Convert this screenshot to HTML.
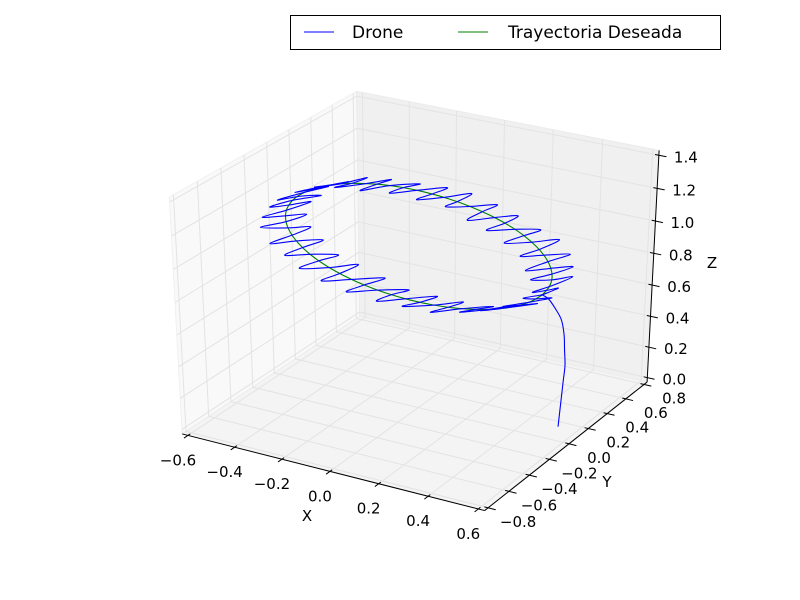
<!DOCTYPE html>
<html><head><meta charset="utf-8"><style>
body{margin:0;background:#fff}
svg{display:block;font-family:"DejaVu Sans","Liberation Sans",sans-serif}
</style></head><body>
<svg id="chart" width="800" height="600" viewBox="0 0 800 600" xmlns="http://www.w3.org/2000/svg">
<rect x="0" y="0" width="800" height="600" fill="#fff"/>
<g id="panes"></g>
<g id="grid"></g>
<g id="axes"></g>
<g id="series"></g>
<g>
<rect x="290.5" y="15.5" width="430" height="34" fill="#fff" stroke="#000" stroke-width="1"/>
<line x1="304" y1="32" x2="334" y2="32" stroke="#0000ff" stroke-width="1"/>
<text x="352" y="38" font-size="17">Drone</text>
<line x1="458" y1="32" x2="488" y2="32" stroke="#008000" stroke-width="1"/>
<text x="508" y="38" font-size="17">Trayectoria Deseada</text>
</g>
</svg>
<script>
const xTicks = [-0.6,-0.4,-0.2,0.0,0.2,0.4,0.6];
const yTicks = [-0.8,-0.6,-0.4,-0.2,0.0,0.2,0.4,0.6,0.8];
const zTicks = [0.0,0.2,0.4,0.6,0.8,1.0,1.2,1.4];
const xTickLabels = ["\u22120.6","\u22120.4","\u22120.2","0.0","0.2","0.4","0.6"];
const yTickLabels = ["\u22120.8","\u22120.6","\u22120.4","\u22120.2","0.0","0.2","0.4","0.6","0.8"];
const zTickLabels = ["0.0","0.2","0.4","0.6","0.8","1.0","1.2","1.4"];
const desiredX = [0.5,0.492,0.470,0.433,0.383,0.321,0.25,0.171,0.087,0,-0.087,-0.171,-0.25,-0.321,-0.383,-0.433,-0.470,-0.492,-0.5,-0.492,-0.470,-0.433,-0.383,-0.321,-0.25,-0.171,-0.087,0,0.087,0.171,0.25,0.321,0.383,0.433,0.470,0.492,0.5];
const desiredY = [0,0.087,0.171,0.25,0.321,0.383,0.433,0.470,0.492,0.5,0.492,0.470,0.433,0.383,0.321,0.25,0.171,0.087,0,-0.087,-0.171,-0.25,-0.321,-0.383,-0.433,-0.470,-0.492,-0.5,-0.492,-0.470,-0.433,-0.383,-0.321,-0.25,-0.171,-0.087,0];
const desiredZ = [0.86,0.867,0.878,0.894,0.912,0.933,0.956,0.98,1.005,1.03,1.054,1.076,1.096,1.113,1.126,1.136,1.142,1.143,1.14,1.133,1.122,1.106,1.088,1.067,1.044,1.02,0.995,0.97,0.946,0.924,0.904,0.887,0.874,0.864,0.858,0.857,0.86];
const takeoffX = [0.54,0.545,0.55,0.555,0.56,0.56,0.56,0.555,0.54,0.52,0.5];
const takeoffY = [0.1,0.1,0.1,0.1,0.1,0.09,0.08,0.06,0.03,0.01,0];
const takeoffZ = [0,0.1,0.2,0.3,0.4,0.5,0.6,0.7,0.78,0.84,0.86];
const droneAngle = [0,3,6,9,12,15,18,21,24,27,30,33,36,39,42,45,48,51,54,57,60,63,66,69,72,75,78,81,84,87,90,93,96,99,102,105,108,111,114,117,120,123,126,129,132,135,138,141,144,147,150,153,156,159,162,165,168,171,174,177,180,183,186,189,192,195,198,201,204,207,210,213,216,219,222,225,228,231,234,237,240,243,246,249,252,255,258,261,264,267,270,273,276,279,282,285,288,291,294,297,300,303,306,309,312,315,318,321,324,327,330,333,336,339,342,345,348,351,354,357,360];
const droneOsc = [0,.05,0,-.06,.01,.08,0,-.08,0,.08,.01,-.09,0,.09,0,-.08,.01,.09,0,-.09,0,.08,0,-.09,0,.07,.01,-.08,0,.08,0,-.07,0,.08,0,-.08,.01,.09,0,-.08,0,.09,0,-.09,0,.08,.01,-.09,0,.08,0,-.08,0,.09,0,-.08,0,.08,0,-.09,.01,.1,0,-.08,0,.09,0,-.09,0,.08,0,-.1,0,.08,.01,-.09,0,.09,0,-.08,0,.09,0,-.09,.01,.09,0,-.09,0,.1,0,-.09,0,.09,0,-.08,0,.09,0,-.09,0,.08,0,-.09,0,.09,0,-.08,0,.08,0,-.09,0,.08,0,-.08,0,.07,0,-.06,0];
const droneDz = [0,.03,0,-.03,0,.04,0,-.02,0,.03,0,-.04,0,.03,0,-.03,0,.04,0,-.03,0,.02,0,-.03,0,.03,0,-.04,0,.03,0,-.02,0,.04,0,-.03,0,.03,0,-.03,0,.02,0,-.04,0,.03,0,-.03,0,.04,0,-.02,0,.03,0,-.03,0,.03,0,-.04,0,.02,0,-.03,0,.04,0,-.03,0,.03,0,-.02,0,.03,0,-.04,0,.03,0,-.03,0,.02,0,-.03,0,.04,0,-.03,0,.03,0,-.03,0,.02,0,-.03,0,.03,0,-.02,0,.03,0,-.03,0,.02,0,-.02,0,.03,0,-.02,0,.02,0,-.02,0,.02,0,-.01,0];
const droneRadius = 0.5, droneHeight = 1.0, droneTiltX = -0.28, droneTiltY = 0.06;
const oscDirX = 0.85, oscDirY = 0.55;

const NS="http://www.w3.org/2000/svg";
const xmin=-0.6,xmax=0.6,ymin=-0.8,ymax=0.8,zmin=0,zmax=1.4;
const elev=30*Math.PI/180, azim=-60*Math.PI/180, dist=10;
function sub(a,b){return [a[0]-b[0],a[1]-b[1],a[2]-b[2]];}
function cross(a,b){return [a[1]*b[2]-a[2]*b[1],a[2]*b[0]-a[0]*b[2],a[0]*b[1]-a[1]*b[0]];}
function norm(a){const m=Math.hypot(a[0],a[1],a[2]);return [a[0]/m,a[1]/m,a[2]/m];}
function dot(a,b){return a[0]*b[0]+a[1]*b[1]+a[2]*b[2];}
const R=[0.5,0.5,0.5];
const E=[R[0]+Math.cos(azim)*Math.cos(elev)*dist,R[1]+Math.sin(azim)*Math.cos(elev)*dist,R[2]+Math.sin(elev)*dist];
const n=norm(sub(E,R)), u=norm(cross([0,0,1],n)), v=cross(n,u);
function P(x,y,z){
  const w=[(x-xmin)/(xmax-xmin),(y-ymin)/(ymax-ymin),(z-zmin)/(zmax-zmin)];
  const d=sub(w,E);
  const vx=dot(u,d), vy=dot(v,d), vz=dot(n,d);
  const tx=vx/(-vz), ty=vy/(-vz);
  const sx=100+(tx+0.095)/(0.185)*620;
  const sy=540-(ty+0.095)/(0.185)*480;
  return [sx,sy];
}
const dx=(xmax-xmin)/48, dy=(ymax-ymin)/48, dz=(zmax-zmin)/48;
const X0=xmin-dx,X1=xmax+dx,Y0=ymin-dy,Y1=ymax+dy,Z0=zmin-dz,Z1=zmax+dz;
function el(tag,attrs,parent){const e=document.createElementNS(NS,tag);for(const k in attrs)e.setAttribute(k,attrs[k]);parent.appendChild(e);return e;}
function poly(pts){return pts.map(p=>{const q=P(p[0],p[1],p[2]);return q[0].toFixed(2)+","+q[1].toFixed(2);}).join(" ");}
const panes=document.getElementById('panes');
let e;
e=el('polygon',{points:poly([[X0,Y0,Z0],[X0,Y1,Z0],[X0,Y1,Z1],[X0,Y0,Z1]]),fill:'#f9f9f9',stroke:'#f0f0f0'},panes);


e=el('polygon',{points:poly([[X0,Y1,Z0],[X1,Y1,Z0],[X1,Y1,Z1],[X0,Y1,Z1]]),fill:'#f0f0f0',stroke:'#ebebeb'},panes);


e=el('polygon',{points:poly([[X0,Y0,Z0],[X1,Y0,Z0],[X1,Y1,Z0],[X0,Y1,Z0]]),fill:'#f4f4f4',stroke:'#ececec'},panes);


const grid=document.getElementById('grid');
function gl(pts,name){const g=el('polyline',{points:poly(pts),fill:'none',stroke:'#e3e3e3','stroke-width':1},grid);}
xTicks.forEach(x=>gl([[x,Y0,Z0],[x,Y1,Z0],[x,Y1,Z1]],'x-gridline'));
yTicks.forEach(y=>gl([[X1,y,Z0],[X0,y,Z0],[X0,y,Z1]],'y-gridline'));
zTicks.forEach(z=>gl([[X0,Y0,z],[X0,Y1,z],[X1,Y1,z]],'z-gridline'));
const axes=document.getElementById('axes');
function line3(a,b,name,w){const p=P(...a),q=P(...b);const l=el('line',{x1:p[0],y1:p[1],x2:q[0],y2:q[1],stroke:'#000','stroke-width':w||1},axes);}
function txt(s,xy,name,size){const t=el('text',{x:xy[0],y:xy[1],'font-size':size||15,'text-anchor':'middle','dominant-baseline':'central'},axes);t.textContent=s;}
line3([X0,Y0,Z0],[X1,Y0,Z0],'x-axis-line');
line3([X1,Y0,Z0],[X1,Y1,Z0],'y-axis-line');
line3([X1,Y1,Z0],[X1,Y1,Z1],'z-axis-line');
xTicks.forEach((x,i)=>{line3([x,Y0-0.035,Z0],[x,Y0+0.02,Z0],'x-tick');const p=P(x,Y0,Z0);txt(xTickLabels[i],[p[0]-10,p[1]+25],'x-tick-label');});
yTicks.forEach((y,i)=>{line3([X1-0.015,y,Z0],[X1+0.03,y,Z0],'y-tick');const p=P(X1,y,Z0);txt(yTickLabels[i],[p[0]+30,p[1]+14],'y-tick-label');});
zTicks.forEach((z,i)=>{line3([X1-0.015,Y1,z],[X1+0.03,Y1,z],'z-tick');const p=P(X1,Y1,z);txt(zTickLabels[i],[p[0]+27,p[1]+2],'z-tick-label');});
txt('X',[307,516],'x-axis-title');
txt('Y',[607,482],'y-axis-title');
txt('Z',[712,263],'z-axis-title');
const series=document.getElementById('series');
function smooth(pts){
  let d='M'+pts[0][0].toFixed(2)+' '+pts[0][1].toFixed(2);
  for(let i=0;i<pts.length-1;i++){
    const p0=pts[Math.max(0,i-1)],p1=pts[i],p2=pts[i+1],p3=pts[Math.min(pts.length-1,i+2)];
    const c1=[p1[0]+(p2[0]-p0[0])/6,p1[1]+(p2[1]-p0[1])/6],c2=[p2[0]-(p3[0]-p1[0])/6,p2[1]-(p3[1]-p1[1])/6];
    d+=' C'+c1[0].toFixed(2)+' '+c1[1].toFixed(2)+' '+c2[0].toFixed(2)+' '+c2[1].toFixed(2)+' '+p2[0].toFixed(2)+' '+p2[1].toFixed(2);
  }
  return d;
}
const dronePts=[];
takeoffX.forEach((x,i)=>dronePts.push(P(x,takeoffY[i],takeoffZ[i])));
droneAngle.forEach((a,i)=>{
  const t=a*Math.PI/180;
  const x=droneRadius*Math.cos(t)+droneOsc[i]*oscDirX, y=droneRadius*Math.sin(t)+droneOsc[i]*oscDirY;
  dronePts.push(P(x,y,droneHeight+droneTiltX*droneRadius*Math.cos(t)+droneTiltY*droneRadius*Math.sin(t)+droneDz[i]));
});
const desPts=desiredX.map((x,i)=>P(x,desiredY[i],desiredZ[i]));
const dp=el('path',{d:smooth(desPts),fill:'none',stroke:'#008000','stroke-width':1.1},series);


const dr=el('path',{d:smooth(dronePts),fill:'none',stroke:'#0000ff','stroke-width':1.1},series);


</script>
</body></html>
